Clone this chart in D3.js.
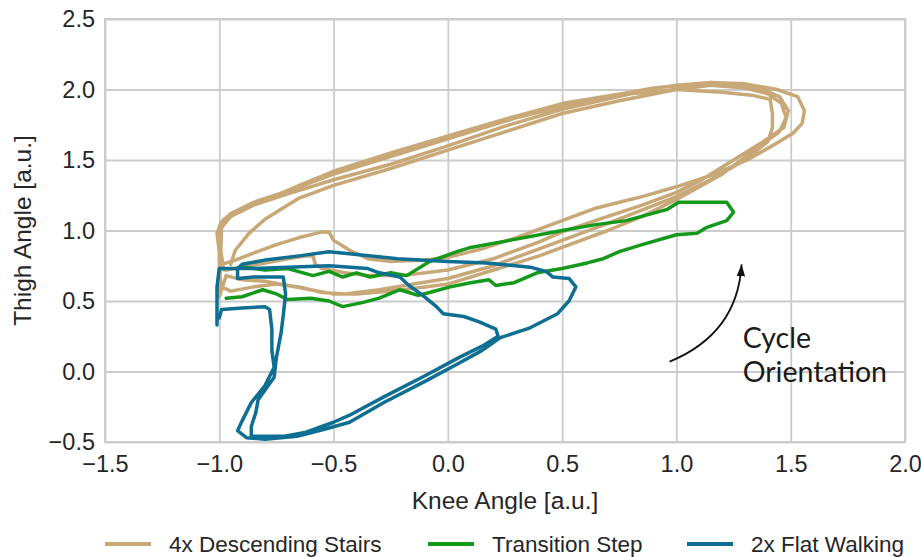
<!DOCTYPE html>
<html>
<head>
<meta charset="utf-8">
<script src="https://cdn.jsdelivr.net/npm/d3@7"></script>
<style>
html,body{margin:0;padding:0;background:#fff;}
svg{display:block;}
</style>
</head>
<body>
<svg id="chart" width="921" height="557"></svg>
<script>
// ---------- data ----------
const xTicks = [-1.5, -1.0, -0.5, 0.0, 0.5, 1.0, 1.5, 2.0];
const yTicks = [-0.5, 0.0, 0.5, 1.0, 1.5, 2.0, 2.5];
const seriesNames = ["4x Descending Stairs", "Transition Step", "2x Flat Walking"];

// 4x Descending Stairs: [knee, thigh]
const stairsKnee = [
 -0.99,-0.93,-0.85,-0.75,-0.65,-0.55,-0.52,-0.50,-0.47,-0.43,-0.35,-0.25,-0.10,0.00,0.15,0.30,0.50,0.65,0.75,0.85,1.00,1.15,1.31,1.44,1.51,1.55,1.56,1.53,1.44,1.30,1.15,1.00,0.80,0.50,0.25,0.00,-0.25,-0.50,-0.65,-0.75,-0.85,-0.93,-0.98,-1.00,-1.00,-0.99,-0.98,
 -0.97,-0.90,-0.80,-0.70,-0.62,-0.59,-0.58,-0.55,-0.45,-0.35,-0.20,0.00,0.20,0.40,0.50,0.70,0.85,1.00,1.10,1.22,1.37,1.47,1.49,1.45,1.38,1.25,1.10,0.90,0.60,0.30,0.00,-0.30,-0.50,-0.70,-0.85,-0.95,-0.99,-1.01,-1.00,-1.00,
 -0.99,-0.95,-0.85,-0.75,-0.65,-0.55,-0.45,-0.30,-0.15,0.00,0.20,0.40,0.50,0.70,1.00,1.15,1.30,1.40,1.42,1.42,1.41,1.33,1.20,1.00,0.80,0.50,0.25,0.00,-0.25,-0.50,-0.70,-0.85,-0.95,-0.99,-1.00,
 -0.97,-0.90,-0.80,-0.70,-0.60,-0.50,-0.40,-0.25,-0.10,0.00,0.20,0.40,0.50,0.70,0.85,1.00,1.20,1.35,1.45,1.48,1.46,1.40,1.30,1.15,1.00,0.75,0.50,0.25,0.00,-0.25,-0.50,-0.65,-0.73,-0.80,-0.87,-0.93,-0.95
];
const stairsThigh = [
 0.76,0.79,0.84,0.90,0.95,0.99,0.99,0.93,0.90,0.86,0.80,0.78,0.79,0.81,0.87,0.95,1.07,1.16,1.20,1.24,1.31,1.39,1.50,1.62,1.69,1.76,1.85,1.95,2.00,2.04,2.05,2.03,1.98,1.90,1.79,1.67,1.55,1.42,1.32,1.25,1.19,1.13,1.08,1.03,0.92,0.82,0.72,
 0.72,0.74,0.77,0.80,0.82,0.82,0.76,0.73,0.70,0.68,0.68,0.72,0.80,0.92,0.99,1.10,1.18,1.27,1.35,1.47,1.62,1.73,1.85,1.95,2.00,2.04,2.04,2.01,1.92,1.80,1.65,1.50,1.40,1.28,1.20,1.12,1.06,0.98,0.85,0.70,
 0.60,0.57,0.60,0.62,0.60,0.56,0.55,0.58,0.62,0.66,0.75,0.87,0.93,1.05,1.24,1.36,1.50,1.63,1.73,1.83,1.93,1.96,1.98,2.00,1.97,1.86,1.74,1.60,1.47,1.36,1.26,1.18,1.10,1.02,0.53,
 0.68,0.65,0.64,0.61,0.58,0.55,0.55,0.57,0.60,0.62,0.72,0.82,0.88,1.00,1.10,1.22,1.40,1.58,1.70,1.80,1.90,1.97,2.01,2.03,2.00,1.92,1.83,1.70,1.57,1.44,1.32,1.23,1.15,1.08,0.98,0.86,0.76
];

// Transition Step
const transKnee = [
 -0.97,-0.90,-0.81,-0.75,-0.70,-0.60,-0.52,-0.46,-0.37,-0.30,-0.21,-0.13,-0.08,0.01,0.10,0.18,0.21,0.29,0.39,0.50,0.61,0.68,0.75,0.85,1.00,1.09,1.13,1.22,1.25,1.22,1.16,1.01,0.96,0.78,0.64,0.50,0.27,0.10,0.04,-0.08,-0.18,-0.25,-0.34,-0.40,-0.46,-0.52,-0.59,-0.70,-0.80,-0.89,-0.92
];
const transThigh = [
 0.52,0.53,0.58,0.55,0.51,0.52,0.50,0.46,0.49,0.52,0.58,0.54,0.56,0.60,0.63,0.65,0.61,0.63,0.70,0.73,0.77,0.80,0.85,0.90,0.97,0.98,1.02,1.07,1.13,1.20,1.20,1.20,1.15,1.07,1.04,1.00,0.93,0.88,0.85,0.78,0.68,0.70,0.67,0.70,0.67,0.71,0.68,0.73,0.72,0.74,0.73
];

// 2x Flat Walking
const flatKnee = [
 -1.00,-0.99,-0.90,-0.80,-0.78,-0.77,-0.77,-0.76,-0.80,-0.86,-0.90,-0.92,-0.88,-0.80,-0.66,-0.54,-0.43,-0.28,-0.10,0.05,0.15,0.23,0.36,0.48,0.53,0.56,0.53,0.46,0.43,0.36,0.17,0.00,-0.22,-0.40,-0.52,-0.65,-0.80,-0.90,-0.92,
 -0.92,-0.85,-0.72,-0.71,-0.72,-0.73,-0.75,-0.76,-0.83,-0.84,-0.86,-0.86,-0.72,-0.62,-0.50,-0.43,-0.28,-0.10,0.05,0.15,0.22,0.21,0.14,0.07,-0.02,-0.05,-0.11,-0.17,-0.21,-0.30,-0.35,-0.52,-0.70,-0.85,-1.00,-1.01,-1.01,-1.01
];
const flatThigh = [
 0.38,0.44,0.45,0.46,0.44,0.30,0.15,0.03,-0.10,-0.22,-0.35,-0.42,-0.47,-0.48,-0.46,-0.41,-0.36,-0.22,-0.07,0.06,0.15,0.24,0.31,0.41,0.50,0.60,0.66,0.67,0.71,0.74,0.77,0.78,0.80,0.83,0.85,0.82,0.79,0.76,0.73,
 0.66,0.67,0.67,0.55,0.40,0.27,0.10,-0.04,-0.20,-0.29,-0.39,-0.46,-0.46,-0.43,-0.36,-0.31,-0.18,-0.03,0.10,0.18,0.25,0.30,0.35,0.39,0.41,0.46,0.54,0.61,0.67,0.70,0.73,0.75,0.74,0.73,0.73,0.60,0.45,0.33
];

// annotation
const annoStart = [0.97, 0.07];
const annoEnd = [1.285, 0.76];
const annoText = ["Cycle", "Orientation"];
const annoTextPos = [[1.29, 0.167], [1.29, -0.074]];

// ---------- drawing ----------
const W = 921, H = 557;
const M = {left:105, right:16, top:19, bottom:115};
const svg = d3.select("#chart");
const x = d3.scaleLinear().domain([-1.5, 2.0]).range([M.left, W - M.right]);
const y = d3.scaleLinear().domain([-0.5, 2.5]).range([H - M.bottom, M.top]);

const colors = ["#c9a877", "#14991a", "#0e6f93"];
const gridColor = "#cccccc";
const fmt = d3.format(".1f");
const FONT = "'Liberation Sans', Arial, sans-serif";

// grid
const gx = svg.append("g").attr("transform", `translate(0,${H - M.bottom})`)
  .call(d3.axisBottom(x).tickValues(xTicks).tickFormat(fmt).tickSize(-(H - M.top - M.bottom)).tickPadding(13));
const gy = svg.append("g").attr("transform", `translate(${M.left},0)`)
  .call(d3.axisLeft(y).tickValues(yTicks).tickFormat(fmt).tickSize(-(W - M.left - M.right)).tickPadding(10));
[gx, gy].forEach(g => {
  g.select(".domain").remove();
  g.selectAll(".tick line").attr("stroke", gridColor).attr("stroke-width", 1.8);
  g.selectAll(".tick text").attr("fill", "#262626")
   .style("font-family", FONT).style("font-size", "23.5px");
});
gx.selectAll(".tick text").attr("dy", "0.71em");

// frame
svg.append("rect").attr("x", x(-1.5)).attr("y", y(2.5))
  .attr("width", x(2.0) - x(-1.5)).attr("height", y(-0.5) - y(2.5))
  .attr("fill", "none").attr("stroke", gridColor).attr("stroke-width", 2);

const line = d3.line().x(d => x(d[0])).y(d => y(d[1])).curve(d3.curveLinear);
const series = [
  d3.zip(stairsKnee, stairsThigh),
  d3.zip(transKnee, transThigh),
  d3.zip(flatKnee, flatThigh)
];
const plot = svg.append("g");
series.forEach((s, i) => {
  plot.append("path").datum(s).attr("d", line)
    .attr("fill", "none").attr("stroke", colors[i]).attr("stroke-width", 3.5)
    .attr("stroke-linejoin", "round").attr("stroke-linecap", "round");
});

// axis labels
svg.append("text").attr("x", (x(-1.5) + x(2.0)) / 2).attr("y", 509)
  .attr("text-anchor", "middle").attr("fill", "#262626")
  .style("font-family", FONT).style("font-size", "24.5px")
  .text("Knee Angle [a.u.]");
svg.append("text").attr("transform", `translate(31,${(y(2.5) + y(-0.5)) / 2}) rotate(-90)`)
  .attr("text-anchor", "middle").attr("fill", "#262626")
  .style("font-family", FONT).style("font-size", "24.5px")
  .text("Thigh Angle [a.u.]");

// annotation arrow
const defs = svg.append("defs");
defs.append("marker").attr("id", "ah").attr("viewBox", "0 0 10 10")
  .attr("refX", 10).attr("refY", 5).attr("markerWidth", 12).attr("markerHeight", 12)
  .attr("markerUnits", "userSpaceOnUse").attr("orient", "auto")
  .append("path").attr("d", "M0,1.5 L10,5 L0,8.5 Z").attr("fill", "#111");
const p0 = [x(annoStart[0]), y(annoStart[1])];
const p2 = [x(annoEnd[0]), y(annoEnd[1])];
const c = [p2[0] - 4, p0[1] - 28];
svg.append("path")
  .attr("d", `M${p0[0]},${p0[1]} Q${c[0]},${c[1]} ${p2[0]},${p2[1]}`)
  .attr("fill", "none").attr("stroke", "#111").attr("stroke-width", 1.8)
  .attr("marker-end", "url(#ah)");
annoText.forEach((t, i) => {
  svg.append("text").attr("x", x(annoTextPos[i][0])).attr("y", y(annoTextPos[i][1]))
    .attr("fill", "#1a1a1a").style("font-family", "Lato, sans-serif").style("font-size", "28.5px")
    .text(t);
});

// legend
const legendX = [105, 428, 687];
const legendY = 544;
seriesNames.forEach((n, i) => {
  const g = svg.append("g").attr("transform", `translate(${legendX[i]},${legendY})`);
  g.append("line").attr("x1", 0).attr("x2", 46).attr("y1", 0).attr("y2", 0)
    .attr("stroke", colors[i]).attr("stroke-width", 4);
  g.append("text").attr("x", 64).attr("y", 0).attr("dy", "0.35em").attr("fill", "#262626")
    .style("font-family", FONT).style("font-size", "22.5px")
    .text(n);
});
</script>
</body>
</html>
